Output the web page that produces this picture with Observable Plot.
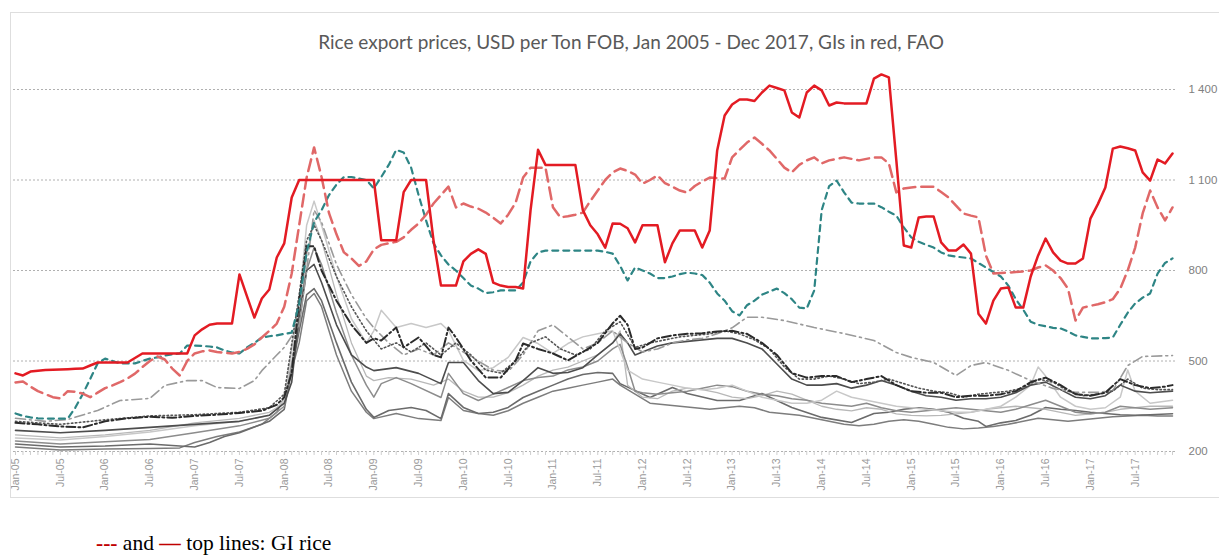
<!DOCTYPE html>
<html><head><meta charset="utf-8">
<script src="https://cdn.jsdelivr.net/npm/d3@7"></script>
<script src="https://cdn.jsdelivr.net/npm/@observablehq/plot@0.6"></script>
<style>
body{margin:0;background:#fff;width:1219px;height:556px;position:relative;overflow:hidden;font-family:"Liberation Sans",sans-serif}
#frame{position:absolute;left:10px;top:12px;width:1215px;height:484px;border:1px solid #dedede;pointer-events:none}
#title{position:absolute;top:30px;left:10px;width:1242px;text-align:center;font-family:Lato,sans-serif;font-size:19px;color:#595959}
#chart{position:absolute;left:0;top:0}
#note{position:absolute;left:96px;top:531px;font-family:"Liberation Serif",serif;font-size:21.5px;color:#000}
</style></head>
<body>
<div id="chart"></div>
<div id="frame"></div>
<div id="title">Rice export prices, USD per Ton FOB, Jan 2005 - Dec 2017, GIs in red, FAO</div>
<div id="note"><span style="color:#c00000;font-weight:bold">---</span> and <span style="color:#c00000;font-weight:bold">—</span> top lines: GI rice</div>
<script>
// x tick labels (every 6 months, month index 0 = Jan 2005)
const tickLabels = ["Jan-05","Jul-05","Jan-06","Jul-06","Jan-07","Jul-07","Jan-08","Jul-08","Jan-09","Jul-09","Jan-10","Jul-10","Jan-11","Jul-11","Jan-12","Jul-12","Jan-13","Jul-13","Jan-14","Jul-14","Jan-15","Jul-15","Jan-16","Jul-16","Jan-17","Jul-17"];
const yTicks = [200, 500, 800, 1100, 1400];

// GI rice, solid red (monthly, Jan 2005 - Dec 2017)
const redSolid = [459,452,465,468,470,471,472,473,474,475,
485,495,495,495,495,495,510,525,525,525,
525,525,525,525,585,605,620,624,624,624,
787,715,644,707,737,843,890,1042,1100,1100,
1100,1100,1100,1100,1100,1100,1100,1100,1100,900,
900,900,1060,1100,1100,1100,900,750,750,750,
830,855,870,855,760,750,745,745,740,1000,
1200,1150,1150,1150,1150,1150,1000,950,920,876,
956,955,940,893,950,950,950,827,890,933,
933,933,876,933,1198,1314,1350,1367,1367,1362,
1390,1413,1405,1397,1324,1307,1390,1413,1397,1347,
1357,1354,1354,1354,1354,1436,1450,1440,1165,883,
876,976,979,979,893,866,866,886,856,657,
624,700,740,744,677,677,780,850,906,860,
833,823,823,840,972,1020,1075,1204,1211,1205,
1198,1125,1098,1168,1155,1188];

// GI rice, dashed red
const redDashed = [429,432,415,400,390,380,376,400,398,392,
380,395,410,419,430,442,458,480,500,515,
505,475,452,500,525,532,535,530,527,525,
530,540,555,578,600,624,680,790,950,1108,
1208,1110,990,920,860,840,815,830,870,885,
890,895,910,935,956,985,1022,1050,1078,1009,
1022,1012,1005,992,975,956,985,1025,1108,1141,
1141,1141,1010,976,980,985,992,1030,1065,1100,
1125,1138,1130,1118,1088,1100,1115,1090,1078,1065,
1058,1080,1095,1108,1106,1105,1175,1200,1224,1241,
1220,1198,1170,1141,1125,1150,1165,1175,1155,1165,
1170,1175,1170,1165,1170,1175,1175,1155,1059,1072,
1075,1078,1078,1078,1060,1042,1015,989,982,976,
850,790,792,793,795,797,800,810,817,800,
775,740,634,677,683,688,695,705,740,800,
876,989,1065,1009,966,1009];

// teal dashed
const tealDashed = [326,318,313,310,309,309,309,309,345,390,
440,492,508,500,492,492,492,500,508,512,
518,522,525,551,551,550,548,545,535,528,
525,545,560,578,582,585,590,594,690,860,
960,1000,1050,1085,1110,1110,1105,1100,1072,1110,
1150,1200,1191,1141,1050,966,890,850,820,800,
775,750,740,725,728,734,734,734,760,830,
860,866,866,866,866,866,866,866,866,862,
856,815,767,810,800,790,775,775,780,788,
793,790,785,760,724,700,665,651,685,700,
720,730,740,725,705,677,674,734,1000,1080,
1098,1059,1025,1022,1022,1022,1010,995,982,943,
910,895,885,876,860,850,846,843,840,825,
810,795,780,750,705,670,630,620,615,610,
608,598,585,580,575,575,576,578,620,660,
691,710,724,790,825,840];

// other (non-GI) rice prices: [month index, value]
const grayDashDot = [[0,295],[3,290],[6,283],[9,280],[12,300],[15,310],[18,315],[21,312],[24,318],[27,322],[30,328],[33,335],[35,355],[36,380],[37,460],[38,700],[39,880],[40,880],[41,800],[43,700],[45,620],[47,560],[48,575],[49,568],[51,611],[52,545],[54,578],[56,520],[57,512],[58,611],[59,578],[61,502],[63,445],[65,445],[67,502],[68,558],[70,540],[72,525],[74,502],[76,530],[78,560],[80,625],[81,650],[82,620],[83,540],[84,545],[86,575],[88,585],[90,590],[92,592],[94,598],[96,600],[98,590],[100,560],[102,520],[104,460],[106,445],[108,450],[110,450],[112,430],[114,440],[116,450],[118,420],[120,400],[122,395],[124,395],[126,380],[128,385],[130,385],[132,390],[134,400],[136,430],[138,445],[140,420],[142,390],[144,385],[146,395],[148,440],[150,420],[152,410],[154,415],[155,420]];
const grayDotted = [[0,300],[6,290],[12,305],[18,318],[24,322],[30,330],[34,345],[36,390],[38,720],[39,900],[40,950],[41,900],[43,780],[45,680],[47,600],[49,540],[51,560],[53,530],[55,560],[57,520],[59,560],[61,520],[63,470],[65,460],[67,500],[69,560],[71,580],[73,540],[75,520],[77,540],[79,600],[81,630],[83,545],[85,560],[87,570],[89,580],[91,585],[93,590],[95,600],[97,590],[99,570],[101,540],[103,480],[105,440],[107,440],[109,450],[111,440],[113,425],[115,430],[117,440],[119,425],[121,410],[123,400],[125,395],[127,380],[129,390],[131,395],[133,400],[135,410],[137,440],[139,430],[141,400],[143,385],[145,390],[147,400],[149,440],[151,410],[153,405],[155,405]];
const grayLightDashDot = [[0,310],[4,300],[7,306],[11,336],[14,369],[18,376],[20,419],[23,435],[25,435],[27,412],[30,409],[32,435],[33,468],[35,520],[36,545],[38,620],[39,800],[40,1000],[41,960],[43,820],[45,720],[47,640],[48,610],[50,560],[52,520],[54,540],[56,520],[58,560],[60,530],[62,500],[64,470],[66,465],[68,520],[70,600],[72,620],[74,580],[76,540],[78,560],[80,600],[82,560],[84,530],[86,540],[88,560],[90,570],[92,575],[94,590],[96,610],[98,645],[100,645],[103,634],[107,611],[111,591],[115,568],[118,528],[120,512],[123,495],[126,452],[128,485],[130,495],[133,469],[136,435],[139,409],[142,396],[145,396],[147,402],[149,485],[151,515],[155,518]];
const graySolidA = [[0,270],[6,262],[12,270],[18,280],[24,290],[30,300],[34,320],[36,360],[37,430],[38,650],[39,800],[40,820],[41,760],[43,620],[45,520],[47,480],[48,468],[51,478],[54,459],[57,425],[58,495],[60,495],[62,435],[64,392],[66,396],[68,435],[70,478],[72,459],[74,462],[76,478],[78,520],[80,560],[81,590],[82,560],[83,520],[84,530],[86,550],[88,560],[90,565],[92,570],[94,575],[96,575],[98,560],[100,540],[102,490],[104,440],[106,420],[108,420],[110,425],[112,410],[114,420],[116,435],[118,420],[120,400],[122,385],[124,380],[126,370],[128,375],[130,375],[132,380],[134,395],[136,420],[138,430],[140,405],[142,380],[144,375],[146,385],[148,420],[150,400],[152,395],[155,400]];
const graySolidB = [[0,245],[6,238],[12,250],[18,265],[24,285],[30,300],[34,320],[36,370],[38,700],[39,950],[40,1030],[41,950],[43,780],[45,640],[47,560],[48,600],[49,668],[51,611],[53,624],[55,611],[57,624],[58,601],[60,502],[62,468],[64,478],[66,512],[68,578],[70,558],[72,525],[74,558],[76,580],[78,590],[80,600],[82,470],[84,440],[86,430],[88,420],[90,410],[92,405],[94,410],[96,420],[98,400],[100,380],[102,370],[104,360],[106,360],[108,370],[110,400],[112,380],[114,370],[116,360],[118,350],[120,345],[122,340],[124,335],[126,330],[128,330],[130,340],[132,350],[134,380],[136,420],[137,480],[138,450],[140,380],[142,350],[144,340],[146,345],[148,380],[149,470],[150,400],[152,360],[155,370]];
const graySolidC = [[0,235],[6,225],[12,232],[18,240],[24,262],[30,285],[34,310],[36,350],[38,620],[39,800],[40,876],[41,820],[43,660],[45,520],[47,420],[48,380],[49,425],[51,445],[53,425],[57,379],[58,459],[60,392],[62,369],[64,390],[66,412],[68,435],[70,445],[72,450],[74,470],[76,480],[78,500],[80,540],[81,555],[82,480],[83,400],[84,395],[86,390],[88,395],[90,400],[92,410],[94,420],[96,415],[98,400],[100,390],[102,385],[104,375],[106,370],[108,360],[110,355],[112,350],[114,360],[116,345],[118,335],[120,330],[122,335],[124,340],[126,345],[128,340],[130,335],[132,330],[134,340],[136,355],[138,370],[140,350],[142,330],[144,325],[146,330],[148,350],[150,345],[152,340],[155,345]];
const graySolidD = [[0,225],[6,215],[12,218],[18,225],[24,215],[26,230],[28,250],[30,262],[34,300],[36,340],[38,600],[39,720],[40,740],[41,700],[43,560],[45,430],[47,340],[48,313],[50,336],[53,346],[55,336],[57,309],[58,392],[60,346],[62,326],[64,330],[66,346],[68,379],[70,400],[72,420],[74,440],[76,455],[78,462],[80,459],[81,425],[85,379],[88,412],[90,392],[94,369],[97,369],[100,392],[104,346],[108,313],[112,296],[115,326],[117,330],[119,340],[121,345],[123,340],[125,330],[127,310],[129,300],[130,283],[132,295],[134,303],[136,320],[138,346],[140,340],[142,336],[144,330],[146,326],[148,322],[150,320],[152,322],[155,325]];
const graySolidE = [[0,215],[6,205],[12,208],[18,210],[22,212],[24,230],[27,250],[30,265],[33,290],[35,330],[36,380],[38,560],[39,700],[40,724],[41,680],[43,520],[45,400],[47,330],[48,309],[51,326],[54,309],[57,303],[58,379],[60,336],[62,326],[64,320],[66,335],[68,360],[70,380],[72,400],[74,410],[76,420],[78,430],[80,440],[81,420],[83,390],[85,360],[87,355],[89,350],[91,345],[93,340],[95,345],[97,350],[99,345],[101,330],[103,325],[105,320],[107,310],[109,300],[111,290],[113,285],[115,290],[117,300],[119,305],[121,300],[123,290],[125,280],[127,275],[129,278],[131,283],[133,290],[135,300],[137,310],[139,305],[141,300],[143,305],[145,310],[147,315],[149,318],[151,320],[153,318],[155,318]];
const graySolidF = [[0,255],[6,245],[12,255],[18,270],[24,295],[30,310],[34,330],[36,360],[38,640],[39,850],[40,966],[41,900],[43,720],[45,560],[47,450],[48,435],[50,445],[53,440],[56,420],[58,440],[60,400],[62,380],[64,380],[66,395],[68,420],[70,450],[72,470],[74,480],[76,500],[78,520],[80,560],[81,600],[82,420],[84,380],[86,375],[88,400],[90,410],[92,405],[94,395],[96,380],[98,375],[100,385],[102,400],[104,390],[106,370],[108,350],[110,340],[112,335],[114,345],[116,340],[118,325],[120,320],[122,318],[124,320],[126,325],[128,330],[130,340],[132,345],[134,350],[136,345],[138,340],[140,330],[142,320],[144,325],[146,330],[148,340],[150,345],[152,350],[155,350]];

const allMonths = d3.range(redSolid.length);
const labelMonths = tickLabels.map((_, i) => i * 6);
const fmt = d3.formatLocale({decimal: ".", thousands: " ", grouping: [3], currency: ["", ""]}).format(",");

const grays = [
  {data: graySolidE, stroke: "#7d7d7d", w: 1.5},
  {data: graySolidD, stroke: "#6b6b6b", w: 1.6},
  {data: graySolidF, stroke: "#b8b8b8", w: 1.3},
  {data: graySolidC, stroke: "#8c8c8c", w: 1.5},
  {data: graySolidB, stroke: "#c8c8c8", w: 1.5},
  {data: graySolidA, stroke: "#4d4d4d", w: 1.6},
  {data: grayLightDashDot, stroke: "#9a9a9a", w: 1.6, dash: "10,4,2,4"},
  {data: grayDotted, stroke: "#555555", w: 1.6, dash: "1.5,2.5"},
  {data: grayDashDot, stroke: "#2b2b2b", w: 2, dash: "9,3,2,3"}
];

const chart = Plot.plot({
  width: 1219, height: 500,
  marginLeft: 13, marginRight: 44, marginTop: 89, marginBottom: 49,
  style: {background: "transparent", overflow: "visible"},
  x: {type: "linear", domain: [-0.27, 155.4]},
  y: {domain: [200, 1400]},
  marks: [
    Plot.gridY(yTicks, {stroke: "#b0b0b0", strokeOpacity: 1, strokeDasharray: "2,2"}),
    Plot.axisY(yTicks, {anchor: "right", tickSize: 0, tickPadding: 13, textAnchor: "start", tickFormat: fmt, fill: "#808080", fontSize: 11.5, fontFamily: "Liberation Sans", label: null}),
    Plot.axisX(allMonths, {anchor: "bottom", tickSize: 4, tickFormat: () => "", stroke: "#cfcfcf", label: null}),
    Plot.axisX(labelMonths, {anchor: "bottom", tickSize: 0, tickPadding: 7, tickRotate: -90, tickFormat: d => tickLabels[d / 6], fill: "#9a9a9a", fontSize: 10.5, fontFamily: "Liberation Sans", label: null}),
    ...grays.map(g => Plot.line(g.data, {x: d => d[0], y: d => d[1], stroke: g.stroke, strokeWidth: g.w, strokeDasharray: g.dash})),
    Plot.lineY(tealDashed, {stroke: "#2e8585", strokeWidth: 2.2, strokeDasharray: "6,5"}),
    Plot.lineY(redDashed, {stroke: "#e06868", strokeWidth: 2.5, strokeDasharray: "12,6"}),
    Plot.lineY(redSolid, {stroke: "#e31b23", strokeWidth: 2.5})
  ]
});
document.getElementById("chart").appendChild(chart);
</script>
</body></html>
